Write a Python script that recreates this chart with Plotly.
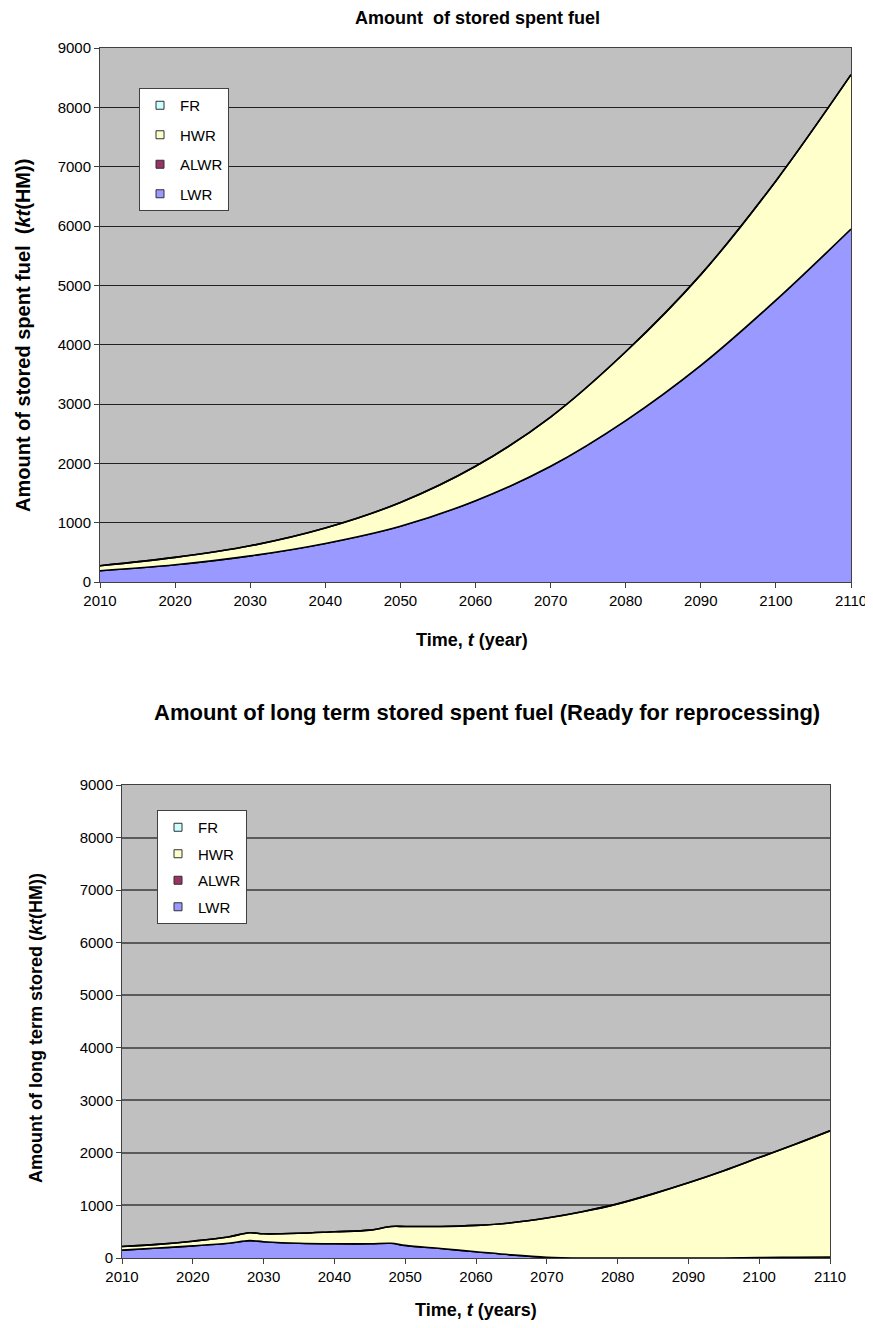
import plotly.graph_objects as go

# ---------- Data: top chart (stored spent fuel) ----------
years_top = [2010, 2020, 2030, 2040, 2050, 2060, 2070, 2080, 2090, 2100, 2110]
lwr_top = [190, 290, 440, 650, 940, 1370, 1950, 2720, 3650, 4750, 5950]
alwr_top = [0, 0, 0, 0, 0, 0, 0, 0, 0, 0, 0]
hwr_top = [85, 125, 170, 260, 400, 580, 830, 1160, 1530, 2010, 2600]
fr_top = [0, 0, 0, 0, 0, 0, 0, 0, 0, 0, 0]

# ---------- Data: bottom chart (long term stored) ----------
years_bot = [2010, 2015, 2020, 2025, 2028, 2030, 2035, 2040, 2045, 2048, 2050, 2055,
             2060, 2065, 2070, 2075, 2080, 2085, 2090, 2095, 2100, 2105, 2110]
lwr_bot = [150, 190, 230, 280, 330, 310, 280, 270, 270, 280, 240, 180,
           120, 60, 15, 0, 0, 0, 0, 0, 10, 15, 20]
alwr_bot = [0] * len(years_bot)
total_bot = [220, 260, 320, 400, 480, 460, 470, 500, 530, 600, 600, 600,
             620, 670, 760, 880, 1030, 1220, 1430, 1660, 1910, 2160, 2420]
hwr_bot = [t - l for t, l in zip(total_bot, lwr_bot)]
fr_bot = [0] * len(years_bot)

x_ticks = list(range(2010, 2111, 10))
y_ticks = list(range(0, 9001, 1000))
legend_names = ["FR", "HWR", "ALWR", "LWR"]

COL = {"LWR": "#9999FF", "ALWR": "#993366", "HWR": "#FFFFCC", "FR": "#CCFFFF"}
FONT = "Liberation Sans, Arial, sans-serif"

fig = go.Figure()


def add_stack(xs, series, xa, ya, stack, shape):
    for name, vals in series:
        fig.add_trace(go.Scatter(
            x=xs, y=vals, name=name, mode="lines",
            stackgroup=stack, xaxis=xa, yaxis=ya,
            line=dict(color="black", width=1.6, shape=shape),
            fillcolor=COL[name], showlegend=False,
            hoverinfo="x+y+name",
        ))


def add_legend(xa, ya, legend):
    for rank, name in enumerate(legend_names):
        fig.add_trace(go.Scatter(
            x=[None], y=[None], mode="markers", name=name,
            xaxis=xa, yaxis=ya, legend=legend, legendrank=rank + 1,
            legendgroup=legend + name,
            marker=dict(symbol="square", size=8, color=COL[name],
                        line=dict(color="#303030", width=1)),
        ))


add_stack(years_top, [("LWR", lwr_top), ("ALWR", alwr_top), ("HWR", hwr_top), ("FR", fr_top)],
          "x", "y", "top", "spline")
add_stack(years_bot, [("LWR", lwr_bot), ("ALWR", alwr_bot), ("HWR", hwr_bot), ("FR", fr_bot)],
          "x2", "y2", "bot", "spline")
add_legend("x", "y", "legend")
add_legend("x2", "y2", "legend2")

# page body has an 8px margin; figure extends to the window edges
OFF = 8
W, H = 873 - OFF, 1328 - OFF


def px_x(p):
    return (p - OFF) / W


def px_y(p):
    return 1 - (p - OFF) / H


axis_common = dict(
    showline=True, linecolor="#404040", linewidth=1, mirror=True,
    ticks="outside", ticklen=5, tickcolor="#404040",
    tickfont=dict(family=FONT, size=15, color="black"),
    zeroline=False, automargin=False,
)

legend_common = dict(
    xanchor="left", yanchor="top",
    bgcolor="white", bordercolor="#404040", borderwidth=1,
    traceorder="grouped",
    font=dict(family=FONT, size=15, color="black"),
    itemwidth=30,
)


def text_ann(text, x, y, size, angle=0):
    return dict(text=text, xref="paper", yref="paper", x=px_x(x), y=px_y(y),
                showarrow=False, xanchor="center", yanchor="middle", textangle=angle,
                font=dict(family=FONT, size=size, color="black"))


fig.update_layout(
    width=W, height=H,
    margin=dict(l=0, r=0, t=0, b=0),
    paper_bgcolor="white",
    plot_bgcolor="#C0C0C0",
    font=dict(family=FONT, color="black"),
    xaxis=dict(domain=[px_x(100), px_x(851)], anchor="y", range=[2010, 2110],
               tickvals=x_ticks, showgrid=False, **axis_common),
    yaxis=dict(domain=[px_y(582), px_y(48)], anchor="x", range=[0, 9000],
               tickvals=y_ticks, showgrid=True, gridcolor="#202020", gridwidth=1,
               **axis_common),
    xaxis2=dict(domain=[px_x(122), px_x(830)], anchor="y2", range=[2010, 2110],
                tickvals=x_ticks, showgrid=False, **axis_common),
    yaxis2=dict(domain=[px_y(1258), px_y(785)], anchor="x2", range=[0, 9000],
                tickvals=y_ticks, showgrid=True, gridcolor="#5a5a5a", gridwidth=1.5,
                **axis_common),
    legend=dict(x=px_x(139), y=px_y(88), tracegroupgap=7, **legend_common),
    legend2=dict(x=px_x(157), y=px_y(810), tracegroupgap=4, **legend_common),
    annotations=[
        text_ann("<b>Amount  of stored spent fuel</b>", 477, 18, 18),
        text_ann("<b>Time, <i>t</i> (year)</b>", 472, 640, 18),
        text_ann("<b>Amount of stored spent fuel  (<i>kt</i>(HM))</b>", 23, 336, 20, -90),
        text_ann("<b>Amount of long term stored spent fuel (Ready for reprocessing)</b>",
                 487, 712, 22),
        text_ann("<b>Time, <i>t</i> (years)</b>", 476, 1310, 18),
        text_ann("<b>Amount of long term stored (<i>kt</i>(HM))</b>", 36, 1028, 18, -90),
    ],
    showlegend=True,
)

fig.write_html("out.html")
